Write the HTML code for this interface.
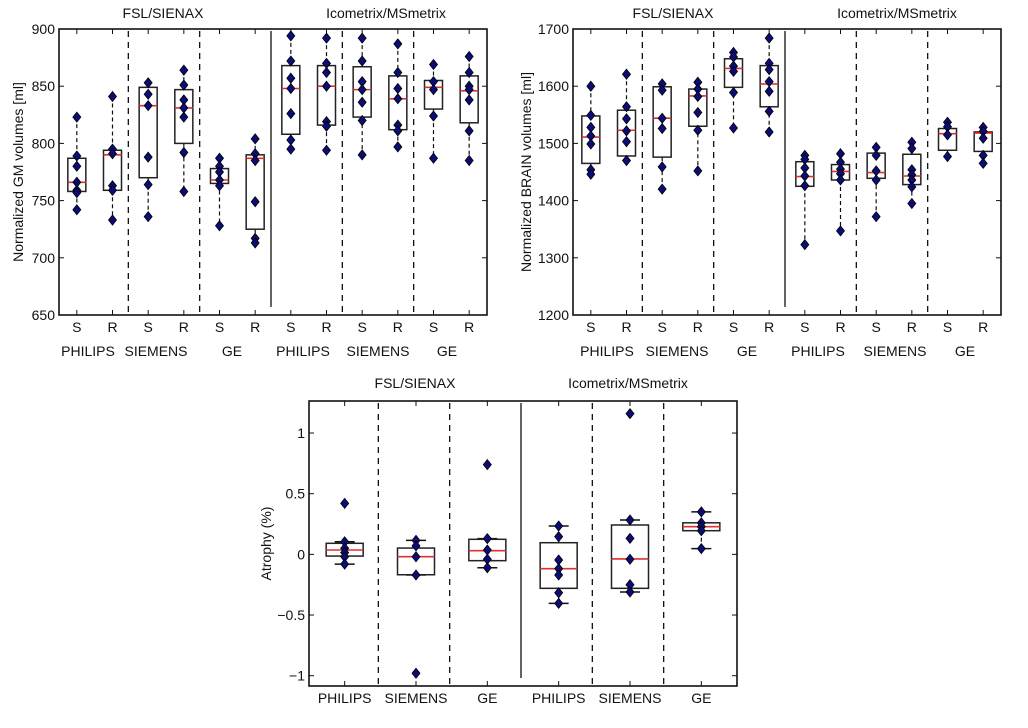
<!DOCTYPE html>
<html><head><meta charset="utf-8"><style>
body{margin:0;background:#fff;width:1028px;height:728px;overflow:hidden}
svg{position:absolute;left:0;top:0}
text{font-family:"Liberation Sans",sans-serif;fill:#111}
</style></head><body>
<svg id="s" width="1028" height="728"></svg>
<script>
// ---- Chart 1 data (GM volumes) ----
const gmCats=["S","R","S","R","S","R","S","R","S","R","S","R"];
const gmQ1=[758,759,770,800,765,725,808,816,823,812,830,818];
const gmMed=[766,790,833,831,768,787,848,850,847,839,849,846];
const gmQ3=[787,794,849,847,778,790,868,868,867,859,855,859];
const gmPts=[[823,789,780,766,759,757,742],[841,795,791,763,759,733],[853,843,833,788,764,736],[864,851,838,831,823,792,758],[787,780,775,768,763,728],[804,791,785,749,717,713],[894,872,857,848,826,803,795],[892,870,862,850,819,815,794],[892,872,854,847,836,820,790],[887,862,848,839,816,811,797],[869,854,847,824,787],[876,862,850,847,838,811,785]];
const gmTicks=[650,700,750,800,850,900];
// ---- Chart 2 data (brain volumes) ----
const brQ1=[1465,1478,1476,1530,1598,1564,1425,1436,1439,1428,1488,1486];
const brMed=[1511,1523,1544,1583,1631,1604,1442,1451,1449,1443,1517,1518];
const brQ3=[1548,1558,1599,1595,1648,1636,1468,1463,1483,1481,1526,1520];
const brPts=[[1600,1549,1528,1513,1499,1454,1446],[1621,1564,1543,1522,1503,1470],[1604,1593,1544,1526,1459,1420],[1607,1595,1582,1554,1523,1452],[1659,1651,1635,1626,1589,1527],[1684,1640,1629,1608,1591,1556,1520],[1479,1472,1457,1443,1426,1323],[1482,1467,1455,1447,1436,1347],[1493,1479,1452,1436,1372],[1502,1491,1454,1445,1436,1424,1395],[1537,1529,1515,1477],[1528,1521,1509,1479,1465]];
const brTicks=[1200,1300,1400,1500,1600,1700];
// ---- Chart 3 data (atrophy) ----
const atCats=["PHILIPS","SIEMENS","GE","PHILIPS","SIEMENS","GE"];
const atQ1=[-0.014,-0.168,-0.052,-0.28,-0.28,0.195];
const atMed=[0.036,-0.019,0.03,-0.118,-0.038,0.228];
const atQ3=[0.091,0.052,0.124,0.096,0.242,0.26];
const atPts=[[0.42,0.104,0.05,0.014,-0.02,-0.08],[0.115,0.07,-0.02,-0.17,-0.98],[0.74,0.13,0.036,-0.04,-0.11],[0.234,0.146,-0.047,-0.118,-0.17,-0.316,-0.404],[1.16,0.283,0.132,-0.04,-0.25,-0.31],[0.35,0.26,0.228,0.195,0.047]];
const atWLo=[-0.08,-0.17,-0.11,-0.404,-0.31,0.047];
const atWHi=[0.104,0.115,0.13,0.234,0.283,0.35];
const atTicks=[-1,-0.5,0,0.5,1];
const atTickLbl=["\u22121","\u22120.5","0","0.5","1"];
const grpNames=["PHILIPS","SIEMENS","GE","PHILIPS","SIEMENS","GE"];

const S=document.getElementById('s');const NS='http://www.w3.org/2000/svg';
function el(t,a,p){const e=document.createElementNS(NS,t);for(const k in a)e.setAttribute(k,a[k]);(p||S).appendChild(e);return e;}
function txt(x,y,s,a,p){const e=el('text',Object.assign({x:x,y:y,'font-size':14,'text-anchor':'middle'},a||{}),p);e.textContent=s;return e;}

function chart(o){
  const g=el('g',{});
  
  
  const n=o.q1.length,bw=(o.x1-o.x0)/n;
  const X=i=>o.x0+(i+0.5)*bw;
  const Y=v=>o.y1-(v-o.ymin)/(o.ymax-o.ymin)*(o.y1-o.y0);
  // separators
  for(let k=1;k<6;k++){const b=o.x0+k*(o.x1-o.x0)/6-2;
    const l=el('line',{x1:b,x2:b,y1:o.y0+2,y2:o.y1+(k==3?-8:-2),stroke:'#111','stroke-width':1.3,'stroke-dasharray':k==3?'none':'6,5'},g);
    
    }
  // ticks
  o.ticks.forEach((v,j)=>{const y=Y(v);
    el('line',{x1:o.x0,x2:o.x0+5,y1:y,y2:y,stroke:'#111'},g);el('line',{x1:o.x1,x2:o.x1-5,y1:y,y2:y,stroke:'#111'},g);
    const t=txt(o.x0-4,y+5,o.tl?o.tl[j]:String(v),{'text-anchor':'end','font-size':14},g);
    
    });
  for(let i=0;i<n;i++){const x=X(i);
    el('line',{x1:x,x2:x,y1:o.y1,y2:o.y1-5,stroke:'#111'},g);el('line',{x1:x,x2:x,y1:o.y0,y2:o.y0+5,stroke:'#111'},g);
    if(o.cats){const t=txt(x,o.catY,o.cats[i],{},g);
      
      }
  }
  for(let i=0;i<n;i++){const x=X(i),pts=o.pts[i];
    const lo=o.wlo?o.wlo[i]:Math.min(...pts),hi=o.whi?o.whi[i]:Math.max(...pts);
    el('line',{x1:x,x2:x,y1:Y(hi),y2:Y(o.q3[i]),stroke:'#111','stroke-width':1.2,'stroke-dasharray':'4,3'},g);
    el('line',{x1:x,x2:x,y1:Y(o.q1[i]),y2:Y(lo),stroke:'#111','stroke-width':1.2,'stroke-dasharray':'4,3'},g);
    if(o.caps){el('line',{x1:x-10,x2:x+10,y1:Y(hi),y2:Y(hi),stroke:'#111','stroke-width':1.5},g);el('line',{x1:x-10,x2:x+10,y1:Y(lo),y2:Y(lo),stroke:'#111','stroke-width':1.5},g);}
    const b=el('rect',{x:x-o.boxw/2,y:Y(o.q3[i]),width:o.boxw,height:Y(o.q1[i])-Y(o.q3[i]),fill:'#fff',stroke:'#222','stroke-width':1.5},g);
    
    
    el('line',{x1:x-o.boxw/2,x2:x+o.boxw/2,y1:Y(o.med[i]),y2:Y(o.med[i]),stroke:'#e03030','stroke-width':1.6},g);
    pts.forEach(v=>{const y=Y(v);
      const d=el('path',{d:`M${x},${y-5}L${x+4},${y}L${x},${y+5}L${x-4},${y}Z`,fill:'#0c0c78',stroke:'#000','stroke-width':0.8},g);
      
      });
  }
  el('rect',{x:o.x0,y:o.y0,width:o.x1-o.x0,height:o.y1-o.y0,fill:'none',stroke:'#111','stroke-width':1.6},g);
  o.grpX.forEach((gx,k)=>{const t=txt(gx,o.grpY,grpNames[k],{},g);
    
    });
  const t1=txt(o.t1,o.tY,'FSL/SIENAX',{},g);
  
  
  const t2=txt(o.t2,o.tY,'Icometrix/MSmetrix',{},g);
  
  
  const yl=txt(0,0,o.ylab,{transform:`translate(${o.ylx},${(o.y0+o.y1)/2}) rotate(-90)`,'font-size':14},g);
  
  
}
chart({name:'gm-chart',x0:59,x1:487,y0:29,y1:315,ymin:650,ymax:900,q1:gmQ1,med:gmMed,q3:gmQ3,pts:gmPts,ticks:gmTicks,cats:gmCats,catY:332,boxw:18,grpX:[88,156,232,303,378,447],grpY:356,t1:163,t2:386,tY:18,ylab:'Normalized GM volumes [ml]',ylx:23});
chart({name:'brain-chart',x0:573,x1:1001,y0:29,y1:315,ymin:1200,ymax:1700,q1:brQ1,med:brMed,q3:brQ3,pts:brPts,ticks:brTicks,cats:gmCats,catY:332,boxw:18,grpX:[607,677,747,818,895,965],grpY:356,t1:673,t2:897,tY:18,ylab:'Normalized BRAIN volumes [ml]',ylx:531});
chart({name:'atrophy-chart',x0:309,x1:737,y0:401,y1:686,ymin:-1.085,ymax:1.264,q1:atQ1,med:atMed,q3:atQ3,pts:atPts,wlo:atWLo,whi:atWHi,caps:true,ticks:atTicks,tl:atTickLbl,cats:atCats,catY:703,boxw:37,grpX:[],grpY:0,t1:415,t2:628,tY:388,ylab:'Atrophy (%)',ylx:271});
</script>
</body></html>
